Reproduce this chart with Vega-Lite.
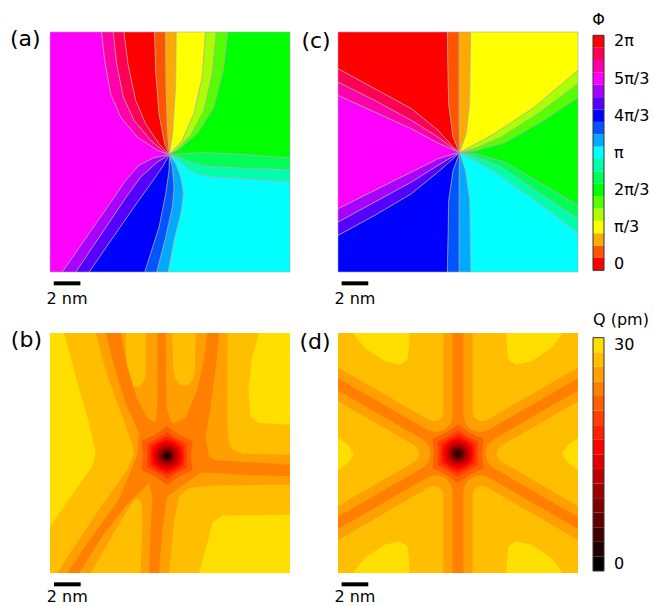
{
"$schema":"https://vega.github.io/schema/vega-lite/v6.json",
"background":"white",
"padding":{"left":9,"top":12,"right":0,"bottom":0},
"config":{"view":{"stroke":null},"font":"DejaVu Sans"},
"datasets":{
"pa":[
{"r":"a01","v":300,"x":8.95,"y":9.2},{"r":"a01","v":300,"x":8.05,"y":8.875},{"r":"a01","v":300,"x":6.55,"y":7.875},{"r":"a01","v":300,"x":5.3,"y":6.375},{"r":"a01","v":300,"x":4.55,"y":4.625},{"r":"a01","v":300,"x":4.1,"y":2.125},{"r":"a01","v":300,"x":3.875,"y":0},{"r":"a01","v":300,"x":0,"y":0},{"r":"a01","v":300,"x":0,"y":18},{"r":"a01","v":300,"x":0.925,"y":18},{"r":"a01","v":300,"x":4.925,"y":12.25},{"r":"a01","v":300,"x":5.675,"y":11.125},{"r":"a01","v":300,"x":6.675,"y":10},{"r":"a01","v":300,"x":7.8,"y":9.425},
{"r":"a02","v":320,"x":8.95,"y":9.2},{"r":"a02","v":320,"x":8.05,"y":8.875},{"r":"a02","v":320,"x":6.55,"y":7.875},{"r":"a02","v":320,"x":5.3,"y":6.375},{"r":"a02","v":320,"x":4.55,"y":4.625},{"r":"a02","v":320,"x":4.1,"y":2.125},{"r":"a02","v":320,"x":3.875,"y":0},{"r":"a02","v":320,"x":4.75,"y":0},{"r":"a02","v":320,"x":5,"y":2.375},{"r":"a02","v":320,"x":5.5,"y":4.875},{"r":"a02","v":320,"x":6.3,"y":6.625},{"r":"a02","v":320,"x":7.55,"y":8.125},{"r":"a02","v":320,"x":8.6,"y":9},
{"r":"a03","v":340,"x":8.95,"y":9.2},{"r":"a03","v":340,"x":8.6,"y":9},{"r":"a03","v":340,"x":7.55,"y":8.125},{"r":"a03","v":340,"x":6.3,"y":6.625},{"r":"a03","v":340,"x":5.5,"y":4.875},{"r":"a03","v":340,"x":5,"y":2.375},{"r":"a03","v":340,"x":4.75,"y":0},{"r":"a03","v":340,"x":5.55,"y":0},{"r":"a03","v":340,"x":5.85,"y":2.375},{"r":"a03","v":340,"x":6.425,"y":5.125},{"r":"a03","v":340,"x":7.175,"y":6.875},{"r":"a03","v":340,"x":8.175,"y":8.375},
{"r":"a04","v":0,"x":8.95,"y":9.2},{"r":"a04","v":0,"x":8.175,"y":8.375},{"r":"a04","v":0,"x":7.175,"y":6.875},{"r":"a04","v":0,"x":6.425,"y":5.125},{"r":"a04","v":0,"x":5.85,"y":2.375},{"r":"a04","v":0,"x":5.55,"y":0},{"r":"a04","v":0,"x":7.85,"y":0},{"r":"a04","v":0,"x":7.925,"y":2.875},{"r":"a04","v":0,"x":8.175,"y":6.125},{"r":"a04","v":0,"x":8.6,"y":8.375},
{"r":"a05","v":20,"x":8.95,"y":9.2},{"r":"a05","v":20,"x":8.6,"y":8.375},{"r":"a05","v":20,"x":8.175,"y":6.125},{"r":"a05","v":20,"x":7.925,"y":2.875},{"r":"a05","v":20,"x":7.85,"y":0},{"r":"a05","v":20,"x":8.675,"y":0},{"r":"a05","v":20,"x":8.7,"y":4.125},{"r":"a05","v":20,"x":8.8,"y":7.375},
{"r":"a06","v":40,"x":8.95,"y":9.2},{"r":"a06","v":40,"x":8.8,"y":7.375},{"r":"a06","v":40,"x":8.7,"y":4.125},{"r":"a06","v":40,"x":8.675,"y":0},{"r":"a06","v":40,"x":9.475,"y":0},{"r":"a06","v":40,"x":9.425,"y":4.125},{"r":"a06","v":40,"x":9.2,"y":7.625},
{"r":"a07","v":60,"x":8.95,"y":9.2},{"r":"a07","v":60,"x":9.2,"y":7.625},{"r":"a07","v":60,"x":9.425,"y":4.125},{"r":"a07","v":60,"x":9.475,"y":0},{"r":"a07","v":60,"x":11.675,"y":0},{"r":"a07","v":60,"x":11.425,"y":3.375},{"r":"a07","v":60,"x":10.8,"y":6.125},{"r":"a07","v":60,"x":9.925,"y":8.125},
{"r":"a08","v":80,"x":8.95,"y":9.2},{"r":"a08","v":80,"x":9.925,"y":8.125},{"r":"a08","v":80,"x":10.8,"y":6.125},{"r":"a08","v":80,"x":11.425,"y":3.375},{"r":"a08","v":80,"x":11.675,"y":0},{"r":"a08","v":80,"x":12.475,"y":0},{"r":"a08","v":80,"x":12.175,"y":3.125},{"r":"a08","v":80,"x":11.55,"y":5.875},{"r":"a08","v":80,"x":10.55,"y":7.75},{"r":"a08","v":80,"x":9.425,"y":8.9},
{"r":"a09","v":100,"x":8.95,"y":9.2},{"r":"a09","v":100,"x":9.425,"y":8.9},{"r":"a09","v":100,"x":10.55,"y":7.75},{"r":"a09","v":100,"x":11.55,"y":5.875},{"r":"a09","v":100,"x":12.175,"y":3.125},{"r":"a09","v":100,"x":12.475,"y":0},{"r":"a09","v":100,"x":13.35,"y":0},{"r":"a09","v":100,"x":13,"y":2.875},{"r":"a09","v":100,"x":12.3,"y":5.625},{"r":"a09","v":100,"x":11.05,"y":7.625},{"r":"a09","v":100,"x":9.675,"y":8.8},
{"r":"a10","v":120,"x":8.95,"y":9.2},{"r":"a10","v":120,"x":9.675,"y":8.8},{"r":"a10","v":120,"x":11.05,"y":7.625},{"r":"a10","v":120,"x":12.3,"y":5.625},{"r":"a10","v":120,"x":13,"y":2.875},{"r":"a10","v":120,"x":13.35,"y":0},{"r":"a10","v":120,"x":18,"y":0},{"r":"a10","v":120,"x":18,"y":9.45},{"r":"a10","v":120,"x":14.3,"y":9.175},{"r":"a10","v":120,"x":11.55,"y":9.05},{"r":"a10","v":120,"x":10.05,"y":9.125},
{"r":"a11","v":140,"x":8.95,"y":9.2},{"r":"a11","v":140,"x":10.05,"y":9.125},{"r":"a11","v":140,"x":11.55,"y":9.05},{"r":"a11","v":140,"x":14.3,"y":9.175},{"r":"a11","v":140,"x":18,"y":9.45},{"r":"a11","v":140,"x":18,"y":10.325},{"r":"a11","v":140,"x":14.3,"y":10.2},{"r":"a11","v":140,"x":11.8,"y":10.075},{"r":"a11","v":140,"x":10.675,"y":9.825},{"r":"a11","v":140,"x":9.8,"y":9.425},
{"r":"a12","v":160,"x":8.95,"y":9.2},{"r":"a12","v":160,"x":9.8,"y":9.425},{"r":"a12","v":160,"x":10.675,"y":9.825},{"r":"a12","v":160,"x":11.8,"y":10.075},{"r":"a12","v":160,"x":14.3,"y":10.2},{"r":"a12","v":160,"x":18,"y":10.325},{"r":"a12","v":160,"x":18,"y":11.225},{"r":"a12","v":160,"x":14.8,"y":11.025},{"r":"a12","v":160,"x":12.3,"y":10.875},{"r":"a12","v":160,"x":11.05,"y":10.675},{"r":"a12","v":160,"x":10.3,"y":10.25},{"r":"a12","v":160,"x":9.55,"y":9.575},
{"r":"a13","v":180,"x":8.95,"y":9.2},{"r":"a13","v":180,"x":9.55,"y":9.575},{"r":"a13","v":180,"x":10.3,"y":10.25},{"r":"a13","v":180,"x":11.05,"y":10.675},{"r":"a13","v":180,"x":12.3,"y":10.875},{"r":"a13","v":180,"x":14.8,"y":11.025},{"r":"a13","v":180,"x":18,"y":11.225},{"r":"a13","v":180,"x":18,"y":18},{"r":"a13","v":180,"x":8.85,"y":18},{"r":"a13","v":180,"x":9.3,"y":15.625},{"r":"a13","v":180,"x":9.8,"y":13.625},{"r":"a13","v":180,"x":10,"y":12.125},{"r":"a13","v":180,"x":9.8,"y":10.875},{"r":"a13","v":180,"x":9.425,"y":9.875},
{"r":"a14","v":200,"x":8.95,"y":9.2},{"r":"a14","v":200,"x":9.425,"y":9.875},{"r":"a14","v":200,"x":9.8,"y":10.875},{"r":"a14","v":200,"x":10,"y":12.125},{"r":"a14","v":200,"x":9.8,"y":13.625},{"r":"a14","v":200,"x":9.3,"y":15.625},{"r":"a14","v":200,"x":8.85,"y":18},{"r":"a14","v":200,"x":8,"y":18},{"r":"a14","v":200,"x":8.675,"y":15.375},{"r":"a14","v":200,"x":9.175,"y":13.125},{"r":"a14","v":200,"x":9.3,"y":11.625},{"r":"a14","v":200,"x":9.175,"y":10.125},
{"r":"a15","v":220,"x":8.95,"y":9.2},{"r":"a15","v":220,"x":9.175,"y":10.125},{"r":"a15","v":220,"x":9.3,"y":11.625},{"r":"a15","v":220,"x":9.175,"y":13.125},{"r":"a15","v":220,"x":8.675,"y":15.375},{"r":"a15","v":220,"x":8,"y":18},{"r":"a15","v":220,"x":7.1,"y":18},{"r":"a15","v":220,"x":8.175,"y":14.625},{"r":"a15","v":220,"x":8.675,"y":12.125},{"r":"a15","v":220,"x":8.925,"y":10.375},
{"r":"a16","v":240,"x":8.95,"y":9.2},{"r":"a16","v":240,"x":8.925,"y":10.375},{"r":"a16","v":240,"x":8.675,"y":12.125},{"r":"a16","v":240,"x":8.175,"y":14.625},{"r":"a16","v":240,"x":7.1,"y":18},{"r":"a16","v":240,"x":2.925,"y":18},{"r":"a16","v":240,"x":6.3,"y":13.125},{"r":"a16","v":240,"x":7.55,"y":11.375},{"r":"a16","v":240,"x":8.425,"y":10.125},
{"r":"a17","v":260,"x":8.95,"y":9.2},{"r":"a17","v":260,"x":8.425,"y":10.125},{"r":"a17","v":260,"x":7.55,"y":11.375},{"r":"a17","v":260,"x":6.3,"y":13.125},{"r":"a17","v":260,"x":2.925,"y":18},{"r":"a17","v":260,"x":1.925,"y":18},{"r":"a17","v":260,"x":5.8,"y":12.25},{"r":"a17","v":260,"x":6.8,"y":10.875},{"r":"a17","v":260,"x":8.05,"y":9.75},
{"r":"a18","v":280,"x":8.95,"y":9.2},{"r":"a18","v":280,"x":8.05,"y":9.75},{"r":"a18","v":280,"x":6.8,"y":10.875},{"r":"a18","v":280,"x":5.8,"y":12.25},{"r":"a18","v":280,"x":1.925,"y":18},{"r":"a18","v":280,"x":0.925,"y":18},{"r":"a18","v":280,"x":4.925,"y":12.25},{"r":"a18","v":280,"x":5.675,"y":11.125},{"r":"a18","v":280,"x":6.675,"y":10},{"r":"a18","v":280,"x":7.8,"y":9.425}
],
"pc":[
{"r":"c01","v":0,"x":9.12,"y":9.05},{"r":"c01","v":0,"x":8.625,"y":8.625},{"r":"c01","v":0,"x":7.5,"y":7.375},{"r":"c01","v":0,"x":5.5,"y":5.75},{"r":"c01","v":0,"x":2.75,"y":4.25},{"r":"c01","v":0,"x":0,"y":2.75},{"r":"c01","v":0,"x":0,"y":0},{"r":"c01","v":0,"x":8.2,"y":0},{"r":"c01","v":0,"x":8.3,"y":5.375},{"r":"c01","v":0,"x":8.625,"y":7.875},
{"r":"c02","v":20,"x":9.12,"y":9.05},{"r":"c02","v":20,"x":8.625,"y":7.875},{"r":"c02","v":20,"x":8.3,"y":5.375},{"r":"c02","v":20,"x":8.2,"y":0},{"r":"c02","v":20,"x":9.075,"y":0},{"r":"c02","v":20,"x":9.075,"y":6.625},
{"r":"c03","v":40,"x":9.12,"y":9.05},{"r":"c03","v":40,"x":9.075,"y":6.625},{"r":"c03","v":40,"x":9.075,"y":0},{"r":"c03","v":40,"x":9.95,"y":0},{"r":"c03","v":40,"x":9.875,"y":5.375},{"r":"c03","v":40,"x":9.625,"y":7.625},
{"r":"c04","v":60,"x":9.12,"y":9.05},{"r":"c04","v":60,"x":9.625,"y":7.625},{"r":"c04","v":60,"x":9.875,"y":5.375},{"r":"c04","v":60,"x":9.95,"y":0},{"r":"c04","v":60,"x":18,"y":0},{"r":"c04","v":60,"x":18,"y":2.875},{"r":"c04","v":60,"x":14.75,"y":5.625},{"r":"c04","v":60,"x":11.75,"y":7.625},{"r":"c04","v":60,"x":10,"y":8.575},
{"r":"c05","v":80,"x":9.12,"y":9.05},{"r":"c05","v":80,"x":10,"y":8.575},{"r":"c05","v":80,"x":11.75,"y":7.625},{"r":"c05","v":80,"x":14.75,"y":5.625},{"r":"c05","v":80,"x":18,"y":2.875},{"r":"c05","v":80,"x":18,"y":3.875},{"r":"c05","v":80,"x":15,"y":6.125},{"r":"c05","v":80,"x":12.25,"y":7.875},{"r":"c05","v":80,"x":10.25,"y":8.75},
{"r":"c06","v":100,"x":9.12,"y":9.05},{"r":"c06","v":100,"x":10.25,"y":8.75},{"r":"c06","v":100,"x":12.25,"y":7.875},{"r":"c06","v":100,"x":15,"y":6.125},{"r":"c06","v":100,"x":18,"y":3.875},{"r":"c06","v":100,"x":18,"y":4.925},{"r":"c06","v":100,"x":15.25,"y":6.75},{"r":"c06","v":100,"x":12.5,"y":8.325},{"r":"c06","v":100,"x":10.25,"y":8.925},
{"r":"c07","v":120,"x":9.12,"y":9.05},{"r":"c07","v":120,"x":10.25,"y":8.925},{"r":"c07","v":120,"x":12.5,"y":8.325},{"r":"c07","v":120,"x":15.25,"y":6.75},{"r":"c07","v":120,"x":18,"y":4.925},{"r":"c07","v":120,"x":18,"y":13},{"r":"c07","v":120,"x":15.25,"y":11.375},{"r":"c07","v":120,"x":12.5,"y":9.75},{"r":"c07","v":120,"x":10.25,"y":9.125},
{"r":"c08","v":140,"x":9.12,"y":9.05},{"r":"c08","v":140,"x":10.25,"y":9.125},{"r":"c08","v":140,"x":12.5,"y":9.75},{"r":"c08","v":140,"x":15.25,"y":11.375},{"r":"c08","v":140,"x":18,"y":13},{"r":"c08","v":140,"x":18,"y":14},{"r":"c08","v":140,"x":15,"y":12},{"r":"c08","v":140,"x":12.25,"y":10.125},{"r":"c08","v":140,"x":10.25,"y":9.325},
{"r":"c09","v":160,"x":9.12,"y":9.05},{"r":"c09","v":160,"x":10.25,"y":9.325},{"r":"c09","v":160,"x":12.25,"y":10.125},{"r":"c09","v":160,"x":15,"y":12},{"r":"c09","v":160,"x":18,"y":14},{"r":"c09","v":160,"x":18,"y":15.075},{"r":"c09","v":160,"x":14.75,"y":12.625},{"r":"c09","v":160,"x":11.75,"y":10.5},{"r":"c09","v":160,"x":10,"y":9.5},
{"r":"c10","v":180,"x":9.12,"y":9.05},{"r":"c10","v":180,"x":10,"y":9.5},{"r":"c10","v":180,"x":11.75,"y":10.5},{"r":"c10","v":180,"x":14.75,"y":12.625},{"r":"c10","v":180,"x":18,"y":15.075},{"r":"c10","v":180,"x":18,"y":18},{"r":"c10","v":180,"x":9.95,"y":18},{"r":"c10","v":180,"x":9.875,"y":12.625},{"r":"c10","v":180,"x":9.55,"y":10.375},
{"r":"c11","v":200,"x":9.12,"y":9.05},{"r":"c11","v":200,"x":9.55,"y":10.375},{"r":"c11","v":200,"x":9.875,"y":12.625},{"r":"c11","v":200,"x":9.95,"y":18},{"r":"c11","v":200,"x":9.075,"y":18},{"r":"c11","v":200,"x":9.075,"y":11.125},
{"r":"c12","v":220,"x":9.12,"y":9.05},{"r":"c12","v":220,"x":9.075,"y":11.125},{"r":"c12","v":220,"x":9.075,"y":18},{"r":"c12","v":220,"x":8.2,"y":18},{"r":"c12","v":220,"x":8.3,"y":12.625},{"r":"c12","v":220,"x":8.625,"y":10.375},
{"r":"c13","v":240,"x":9.12,"y":9.05},{"r":"c13","v":240,"x":8.625,"y":10.375},{"r":"c13","v":240,"x":8.3,"y":12.625},{"r":"c13","v":240,"x":8.2,"y":18},{"r":"c13","v":240,"x":0,"y":18},{"r":"c13","v":240,"x":0,"y":15.25},{"r":"c13","v":240,"x":2.75,"y":13.75},{"r":"c13","v":240,"x":5.5,"y":12.125},{"r":"c13","v":240,"x":7.5,"y":10.5},{"r":"c13","v":240,"x":8.625,"y":9.5},
{"r":"c14","v":260,"x":9.12,"y":9.05},{"r":"c14","v":260,"x":8.625,"y":9.5},{"r":"c14","v":260,"x":7.5,"y":10.5},{"r":"c14","v":260,"x":5.5,"y":12.125},{"r":"c14","v":260,"x":2.75,"y":13.75},{"r":"c14","v":260,"x":0,"y":15.25},{"r":"c14","v":260,"x":0,"y":14.25},{"r":"c14","v":260,"x":2.75,"y":12.75},{"r":"c14","v":260,"x":5.5,"y":11.25},{"r":"c14","v":260,"x":7.5,"y":10},{"r":"c14","v":260,"x":8.75,"y":9.25},
{"r":"c15","v":280,"x":9.12,"y":9.05},{"r":"c15","v":280,"x":8.75,"y":9.25},{"r":"c15","v":280,"x":7.5,"y":10},{"r":"c15","v":280,"x":5.5,"y":11.25},{"r":"c15","v":280,"x":2.75,"y":12.75},{"r":"c15","v":280,"x":0,"y":14.25},{"r":"c15","v":280,"x":0,"y":13.25},{"r":"c15","v":280,"x":2.75,"y":11.875},{"r":"c15","v":280,"x":5.5,"y":10.5},{"r":"c15","v":280,"x":7.5,"y":9.5},{"r":"c15","v":280,"x":8.875,"y":9.075},
{"r":"c16","v":300,"x":9.12,"y":9.05},{"r":"c16","v":300,"x":8.875,"y":9.075},{"r":"c16","v":300,"x":7.5,"y":9.5},{"r":"c16","v":300,"x":5.5,"y":10.5},{"r":"c16","v":300,"x":2.75,"y":11.875},{"r":"c16","v":300,"x":0,"y":13.25},{"r":"c16","v":300,"x":0,"y":4.75},{"r":"c16","v":300,"x":2.75,"y":6},{"r":"c16","v":300,"x":5.5,"y":7.25},{"r":"c16","v":300,"x":7.5,"y":8.325},{"r":"c16","v":300,"x":8.875,"y":8.925},
{"r":"c17","v":320,"x":9.12,"y":9.05},{"r":"c17","v":320,"x":8.875,"y":8.925},{"r":"c17","v":320,"x":7.5,"y":8.325},{"r":"c17","v":320,"x":5.5,"y":7.25},{"r":"c17","v":320,"x":2.75,"y":6},{"r":"c17","v":320,"x":0,"y":4.75},{"r":"c17","v":320,"x":0,"y":3.75},{"r":"c17","v":320,"x":2.75,"y":5.125},{"r":"c17","v":320,"x":5.5,"y":6.625},{"r":"c17","v":320,"x":7.5,"y":7.875},{"r":"c17","v":320,"x":8.75,"y":8.825},
{"r":"c18","v":340,"x":9.12,"y":9.05},{"r":"c18","v":340,"x":8.75,"y":8.825},{"r":"c18","v":340,"x":7.5,"y":7.875},{"r":"c18","v":340,"x":5.5,"y":6.625},{"r":"c18","v":340,"x":2.75,"y":5.125},{"r":"c18","v":340,"x":0,"y":3.75},{"r":"c18","v":340,"x":0,"y":2.75},{"r":"c18","v":340,"x":2.75,"y":4.25},{"r":"c18","v":340,"x":5.5,"y":5.75},{"r":"c18","v":340,"x":7.5,"y":7.375},{"r":"c18","v":340,"x":8.625,"y":8.625}
],
"pd":[
{"r":"d01","v":28,"x":0,"y":0},{"r":"d01","v":28,"x":18,"y":0},{"r":"d01","v":28,"x":18,"y":18},{"r":"d01","v":28,"x":0,"y":18},
{"r":"d02","v":30,"x":1.125,"y":0},{"r":"d02","v":30,"x":2,"y":1.125},{"r":"d02","v":30,"x":3.5,"y":2.125},{"r":"d02","v":30,"x":4.625,"y":2.375},{"r":"d02","v":30,"x":5.2,"y":2},{"r":"d02","v":30,"x":5.325,"y":1},{"r":"d02","v":30,"x":5.375,"y":0},
{"r":"d03","v":30,"x":12.625,"y":0},{"r":"d03","v":30,"x":12.675,"y":1},{"r":"d03","v":30,"x":12.8,"y":2},{"r":"d03","v":30,"x":13.375,"y":2.375},{"r":"d03","v":30,"x":14.5,"y":2.125},{"r":"d03","v":30,"x":16,"y":1.125},{"r":"d03","v":30,"x":16.875,"y":0},
{"r":"d04","v":30,"x":1.125,"y":18},{"r":"d04","v":30,"x":2,"y":16.875},{"r":"d04","v":30,"x":3.5,"y":15.875},{"r":"d04","v":30,"x":4.625,"y":15.625},{"r":"d04","v":30,"x":5.2,"y":16},{"r":"d04","v":30,"x":5.325,"y":17},{"r":"d04","v":30,"x":5.375,"y":18},
{"r":"d05","v":30,"x":12.625,"y":18},{"r":"d05","v":30,"x":12.675,"y":17},{"r":"d05","v":30,"x":12.8,"y":16},{"r":"d05","v":30,"x":13.375,"y":15.625},{"r":"d05","v":30,"x":14.5,"y":15.875},{"r":"d05","v":30,"x":16,"y":16.875},{"r":"d05","v":30,"x":16.875,"y":18},
{"r":"d06","v":30,"x":0,"y":7.875},{"r":"d06","v":30,"x":0.75,"y":8.375},{"r":"d06","v":30,"x":1.2,"y":9.05},{"r":"d06","v":30,"x":0.75,"y":9.75},{"r":"d06","v":30,"x":0,"y":10.25},
{"r":"d07","v":30,"x":18,"y":7.875},{"r":"d07","v":30,"x":17.25,"y":8.375},{"r":"d07","v":30,"x":16.8,"y":9.05},{"r":"d07","v":30,"x":17.25,"y":9.75},{"r":"d07","v":30,"x":18,"y":10.25},
{"r":"d08","v":26,"x":10.1,"y":0},{"r":"d08","v":26,"x":10.1,"y":5.93},{"r":"d08","v":26,"x":10.19,"y":6.28},{"r":"d08","v":26,"x":10.45,"y":6.54},{"r":"d08","v":26,"x":10.8,"y":6.63},{"r":"d08","v":26,"x":11.15,"y":6.54},{"r":"d08","v":26,"x":18,"y":2.58},{"r":"d08","v":26,"x":18,"y":5.12},{"r":"d08","v":26,"x":12.25,"y":8.444},{"r":"d08","v":26,"x":11.994,"y":8.7},{"r":"d08","v":26,"x":11.9,"y":9.05},{"r":"d08","v":26,"x":11.994,"y":9.4},{"r":"d08","v":26,"x":12.25,"y":9.656},{"r":"d08","v":26,"x":18,"y":12.98},{"r":"d08","v":26,"x":18,"y":15.52},{"r":"d08","v":26,"x":11.15,"y":11.56},{"r":"d08","v":26,"x":10.8,"y":11.47},{"r":"d08","v":26,"x":10.45,"y":11.56},{"r":"d08","v":26,"x":10.19,"y":11.82},{"r":"d08","v":26,"x":10.1,"y":12.17},{"r":"d08","v":26,"x":10.1,"y":18},{"r":"d08","v":26,"x":7.9,"y":18},{"r":"d08","v":26,"x":7.9,"y":12.17},{"r":"d08","v":26,"x":7.81,"y":11.82},{"r":"d08","v":26,"x":7.55,"y":11.56},{"r":"d08","v":26,"x":7.2,"y":11.47},{"r":"d08","v":26,"x":6.85,"y":11.56},{"r":"d08","v":26,"x":0,"y":15.52},{"r":"d08","v":26,"x":0,"y":12.98},{"r":"d08","v":26,"x":5.75,"y":9.656},{"r":"d08","v":26,"x":6.006,"y":9.4},{"r":"d08","v":26,"x":6.1,"y":9.05},{"r":"d08","v":26,"x":6.006,"y":8.7},{"r":"d08","v":26,"x":5.75,"y":8.444},{"r":"d08","v":26,"x":0,"y":5.12},{"r":"d08","v":26,"x":0,"y":2.58},{"r":"d08","v":26,"x":6.85,"y":6.54},{"r":"d08","v":26,"x":7.2,"y":6.63},{"r":"d08","v":26,"x":7.55,"y":6.54},{"r":"d08","v":26,"x":7.81,"y":6.28},{"r":"d08","v":26,"x":7.9,"y":5.93},{"r":"d08","v":26,"x":7.9,"y":0},
{"r":"d09","v":24,"x":9.4,"y":0},{"r":"d09","v":24,"x":9.4,"y":6.192},{"r":"d09","v":24,"x":9.5675,"y":6.817},{"r":"d09","v":24,"x":10.025,"y":7.275},{"r":"d09","v":24,"x":10.65,"y":7.442},{"r":"d09","v":24,"x":11.2755,"y":7.275},{"r":"d09","v":24,"x":18,"y":3.392},{"r":"d09","v":24,"x":18,"y":4.315},{"r":"d09","v":24,"x":11.675,"y":7.967},{"r":"d09","v":24,"x":11.2175,"y":8.425},{"r":"d09","v":24,"x":11.05,"y":9.05},{"r":"d09","v":24,"x":11.2175,"y":9.675},{"r":"d09","v":24,"x":11.675,"y":10.133},{"r":"d09","v":24,"x":18,"y":13.785},{"r":"d09","v":24,"x":18,"y":14.708},{"r":"d09","v":24,"x":11.2755,"y":10.825},{"r":"d09","v":24,"x":10.65,"y":10.658},{"r":"d09","v":24,"x":10.025,"y":10.825},{"r":"d09","v":24,"x":9.5675,"y":11.283},{"r":"d09","v":24,"x":9.4,"y":11.908},{"r":"d09","v":24,"x":9.4,"y":18},{"r":"d09","v":24,"x":8.6,"y":18},{"r":"d09","v":24,"x":8.6,"y":11.908},{"r":"d09","v":24,"x":8.4325,"y":11.283},{"r":"d09","v":24,"x":7.975,"y":10.825},{"r":"d09","v":24,"x":7.35,"y":10.658},{"r":"d09","v":24,"x":6.7245,"y":10.825},{"r":"d09","v":24,"x":0,"y":14.708},{"r":"d09","v":24,"x":0,"y":13.785},{"r":"d09","v":24,"x":6.325,"y":10.133},{"r":"d09","v":24,"x":6.7825,"y":9.675},{"r":"d09","v":24,"x":6.95,"y":9.05},{"r":"d09","v":24,"x":6.7825,"y":8.425},{"r":"d09","v":24,"x":6.325,"y":7.967},{"r":"d09","v":24,"x":0,"y":4.315},{"r":"d09","v":24,"x":0,"y":3.392},{"r":"d09","v":24,"x":6.7245,"y":7.275},{"r":"d09","v":24,"x":7.35,"y":7.442},{"r":"d09","v":24,"x":7.975,"y":7.275},{"r":"d09","v":24,"x":8.4325,"y":6.817},{"r":"d09","v":24,"x":8.6,"y":6.192},{"r":"d09","v":24,"x":8.6,"y":0},
{"r":"d10","v":22,"x":9,"y":6.85},{"r":"d10","v":22,"x":9.902,"y":7.488},{"r":"d10","v":22,"x":10.905,"y":7.95},{"r":"d10","v":22,"x":10.804,"y":9.05},{"r":"d10","v":22,"x":10.905,"y":10.15},{"r":"d10","v":22,"x":9.902,"y":10.612},{"r":"d10","v":22,"x":9,"y":11.25},{"r":"d10","v":22,"x":8.098,"y":10.612},{"r":"d10","v":22,"x":7.095,"y":10.15},{"r":"d10","v":22,"x":7.196,"y":9.05},{"r":"d10","v":22,"x":7.095,"y":7.95},{"r":"d10","v":22,"x":8.098,"y":7.488},
{"r":"d11","v":20,"x":9,"y":7.3},{"r":"d11","v":20,"x":9.744,"y":7.762},{"r":"d11","v":20,"x":10.516,"y":8.175},{"r":"d11","v":20,"x":10.4875,"y":9.05},{"r":"d11","v":20,"x":10.516,"y":9.925},{"r":"d11","v":20,"x":9.744,"y":10.338},{"r":"d11","v":20,"x":9,"y":10.8},{"r":"d11","v":20,"x":8.256,"y":10.338},{"r":"d11","v":20,"x":7.484,"y":9.925},{"r":"d11","v":20,"x":7.5125,"y":9.05},{"r":"d11","v":20,"x":7.484,"y":8.175},{"r":"d11","v":20,"x":8.256,"y":7.762},
{"r":"d12","v":18,"x":9,"y":7.6},{"r":"d12","v":18,"x":9.6525,"y":7.92},{"r":"d12","v":18,"x":10.256,"y":8.325},{"r":"d12","v":18,"x":10.305,"y":9.05},{"r":"d12","v":18,"x":10.256,"y":9.775},{"r":"d12","v":18,"x":9.6525,"y":10.18},{"r":"d12","v":18,"x":9,"y":10.5},{"r":"d12","v":18,"x":8.3475,"y":10.18},{"r":"d12","v":18,"x":7.744,"y":9.775},{"r":"d12","v":18,"x":7.695,"y":9.05},{"r":"d12","v":18,"x":7.744,"y":8.325},{"r":"d12","v":18,"x":8.3475,"y":7.92},
{"r":"d13","v":16,"x":9,"y":7.85},{"r":"d13","v":16,"x":9.57,"y":8.063},{"r":"d13","v":16,"x":10.039,"y":8.45},{"r":"d13","v":16,"x":10.14,"y":9.05},{"r":"d13","v":16,"x":10.039,"y":9.65},{"r":"d13","v":16,"x":9.57,"y":10.037},{"r":"d13","v":16,"x":9,"y":10.25},{"r":"d13","v":16,"x":8.43,"y":10.037},{"r":"d13","v":16,"x":7.961,"y":9.65},{"r":"d13","v":16,"x":7.86,"y":9.05},{"r":"d13","v":16,"x":7.961,"y":8.45},{"r":"d13","v":16,"x":8.43,"y":8.063},
{"r":"d14","v":14,"x":9,"y":8.05},{"r":"d14","v":14,"x":9.5,"y":8.184},{"r":"d14","v":14,"x":9.866,"y":8.55},{"r":"d14","v":14,"x":10,"y":9.05},{"r":"d14","v":14,"x":9.866,"y":9.55},{"r":"d14","v":14,"x":9.5,"y":9.916},{"r":"d14","v":14,"x":9,"y":10.05},{"r":"d14","v":14,"x":8.5,"y":9.916},{"r":"d14","v":14,"x":8.134,"y":9.55},{"r":"d14","v":14,"x":8,"y":9.05},{"r":"d14","v":14,"x":8.134,"y":8.55},{"r":"d14","v":14,"x":8.5,"y":8.184},
{"r":"d15","v":12,"x":9,"y":8.23},{"r":"d15","v":12,"x":9.41,"y":8.34},{"r":"d15","v":12,"x":9.71,"y":8.64},{"r":"d15","v":12,"x":9.82,"y":9.05},{"r":"d15","v":12,"x":9.71,"y":9.46},{"r":"d15","v":12,"x":9.41,"y":9.76},{"r":"d15","v":12,"x":9,"y":9.87},{"r":"d15","v":12,"x":8.59,"y":9.76},{"r":"d15","v":12,"x":8.29,"y":9.46},{"r":"d15","v":12,"x":8.18,"y":9.05},{"r":"d15","v":12,"x":8.29,"y":8.64},{"r":"d15","v":12,"x":8.59,"y":8.34},
{"r":"d16","v":10,"x":9,"y":8.39},{"r":"d16","v":10,"x":9.33,"y":8.478},{"r":"d16","v":10,"x":9.572,"y":8.72},{"r":"d16","v":10,"x":9.66,"y":9.05},{"r":"d16","v":10,"x":9.572,"y":9.38},{"r":"d16","v":10,"x":9.33,"y":9.622},{"r":"d16","v":10,"x":9,"y":9.71},{"r":"d16","v":10,"x":8.67,"y":9.622},{"r":"d16","v":10,"x":8.428,"y":9.38},{"r":"d16","v":10,"x":8.34,"y":9.05},{"r":"d16","v":10,"x":8.428,"y":8.72},{"r":"d16","v":10,"x":8.67,"y":8.478},
{"r":"d17","v":8,"x":9,"y":8.53},{"r":"d17","v":8,"x":9.368,"y":8.682},{"r":"d17","v":8,"x":9.52,"y":9.05},{"r":"d17","v":8,"x":9.368,"y":9.418},{"r":"d17","v":8,"x":9,"y":9.57},{"r":"d17","v":8,"x":8.632,"y":9.418},{"r":"d17","v":8,"x":8.48,"y":9.05},{"r":"d17","v":8,"x":8.632,"y":8.682},
{"r":"d18","v":6,"x":9,"y":8.65},{"r":"d18","v":6,"x":9.283,"y":8.767},{"r":"d18","v":6,"x":9.4,"y":9.05},{"r":"d18","v":6,"x":9.283,"y":9.333},{"r":"d18","v":6,"x":9,"y":9.45},{"r":"d18","v":6,"x":8.717,"y":9.333},{"r":"d18","v":6,"x":8.6,"y":9.05},{"r":"d18","v":6,"x":8.717,"y":8.767},
{"r":"d19","v":4,"x":9,"y":8.77},{"r":"d19","v":4,"x":9.198,"y":8.852},{"r":"d19","v":4,"x":9.28,"y":9.05},{"r":"d19","v":4,"x":9.198,"y":9.248},{"r":"d19","v":4,"x":9,"y":9.33},{"r":"d19","v":4,"x":8.802,"y":9.248},{"r":"d19","v":4,"x":8.72,"y":9.05},{"r":"d19","v":4,"x":8.802,"y":8.852},
{"r":"d20","v":2,"x":9,"y":8.88},{"r":"d20","v":2,"x":9.12,"y":8.93},{"r":"d20","v":2,"x":9.17,"y":9.05},{"r":"d20","v":2,"x":9.12,"y":9.17},{"r":"d20","v":2,"x":9,"y":9.22},{"r":"d20","v":2,"x":8.88,"y":9.17},{"r":"d20","v":2,"x":8.83,"y":9.05},{"r":"d20","v":2,"x":8.88,"y":8.93},
{"r":"d21","v":0,"x":9,"y":8.98},{"r":"d21","v":0,"x":9.07,"y":9.05},{"r":"d21","v":0,"x":9,"y":9.12},{"r":"d21","v":0,"x":8.93,"y":9.05}
],
"pb":[
{"r":"b01","v":26,"x":0,"y":0},{"r":"b01","v":26,"x":18,"y":0},{"r":"b01","v":26,"x":18,"y":18},{"r":"b01","v":26,"x":0,"y":18},
{"r":"b02","v":28,"x":0,"y":0},{"r":"b02","v":28,"x":3.425,"y":0},{"r":"b02","v":28,"x":4.3,"y":3.25},{"r":"b02","v":28,"x":5.425,"y":6.25},{"r":"b02","v":28,"x":6.125,"y":8.25},{"r":"b02","v":28,"x":6.3,"y":9.125},{"r":"b02","v":28,"x":5.8,"y":10.25},{"r":"b02","v":28,"x":3.675,"y":13.25},{"r":"b02","v":28,"x":1.675,"y":16.25},{"r":"b02","v":28,"x":0.55,"y":18},{"r":"b02","v":28,"x":0,"y":18},
{"r":"b03","v":28,"x":5.675,"y":0},{"r":"b03","v":28,"x":7.175,"y":0},{"r":"b03","v":28,"x":7.175,"y":3},{"r":"b03","v":28,"x":7.05,"y":3.6},{"r":"b03","v":28,"x":6.8,"y":3.95},{"r":"b03","v":28,"x":6.425,"y":4.05},{"r":"b03","v":28,"x":6.05,"y":3.9},{"r":"b03","v":28,"x":5.85,"y":3.5},{"r":"b03","v":28,"x":5.725,"y":2.75},
{"r":"b04","v":28,"x":9.175,"y":0},{"r":"b04","v":28,"x":10.925,"y":0},{"r":"b04","v":28,"x":10.875,"y":2.75},{"r":"b04","v":28,"x":10.75,"y":3.4},{"r":"b04","v":28,"x":10.45,"y":3.85},{"r":"b04","v":28,"x":10.05,"y":3.95},{"r":"b04","v":28,"x":9.65,"y":3.8},{"r":"b04","v":28,"x":9.35,"y":3.3},{"r":"b04","v":28,"x":9.225,"y":2.5},
{"r":"b05","v":28,"x":13.3,"y":0},{"r":"b05","v":28,"x":18,"y":0},{"r":"b05","v":28,"x":18,"y":9.125},{"r":"b05","v":28,"x":14.425,"y":9.05},{"r":"b05","v":28,"x":13.675,"y":8.75},{"r":"b05","v":28,"x":13.375,"y":8},{"r":"b05","v":28,"x":13.3,"y":6.75},
{"r":"b06","v":28,"x":18,"y":11.375},{"r":"b06","v":28,"x":18,"y":18},{"r":"b06","v":28,"x":8.925,"y":18},{"r":"b06","v":28,"x":9.3,"y":14.25},{"r":"b06","v":28,"x":9.675,"y":12.25},{"r":"b06","v":28,"x":10.425,"y":11.625},{"r":"b06","v":28,"x":11.925,"y":11.45},
{"r":"b07","v":28,"x":3.05,"y":18},{"r":"b07","v":28,"x":6.8,"y":18},{"r":"b07","v":28,"x":6.925,"y":14.25},{"r":"b07","v":28,"x":6.875,"y":12.875},{"r":"b07","v":28,"x":6.75,"y":12.55},{"r":"b07","v":28,"x":6.55,"y":12.45},{"r":"b07","v":28,"x":6.3,"y":12.55},{"r":"b07","v":28,"x":6.05,"y":12.875},{"r":"b07","v":28,"x":4.925,"y":14.75},
{"r":"b08","v":30,"x":0,"y":0},{"r":"b08","v":30,"x":1.05,"y":0},{"r":"b08","v":30,"x":1.925,"y":3.25},{"r":"b08","v":30,"x":2.925,"y":6.75},{"r":"b08","v":30,"x":3.425,"y":9},{"r":"b08","v":30,"x":3.175,"y":10},{"r":"b08","v":30,"x":1.925,"y":11.75},{"r":"b08","v":30,"x":0,"y":14.5},
{"r":"b09","v":30,"x":15.675,"y":0},{"r":"b09","v":30,"x":18,"y":0},{"r":"b09","v":30,"x":18,"y":6.875},{"r":"b09","v":30,"x":15.675,"y":6.75},{"r":"b09","v":30,"x":15.05,"y":6.25},{"r":"b09","v":30,"x":14.875,"y":4.25},{"r":"b09","v":30,"x":15.175,"y":1.75},
{"r":"b10","v":30,"x":18,"y":13.625},{"r":"b10","v":30,"x":18,"y":18},{"r":"b10","v":30,"x":11.175,"y":18},{"r":"b10","v":30,"x":11.8,"y":15.75},{"r":"b10","v":30,"x":12.175,"y":14.25},{"r":"b10","v":30,"x":12.925,"y":13.7},
{"r":"b11","v":24,"x":4.175,"y":0},{"r":"b11","v":24,"x":5.3,"y":0},{"r":"b11","v":24,"x":5.8,"y":2.5},{"r":"b11","v":24,"x":6.55,"y":5},{"r":"b11","v":24,"x":7.3,"y":6.375},{"r":"b11","v":24,"x":7.925,"y":6.75},{"r":"b11","v":24,"x":8.05,"y":5.5},{"r":"b11","v":24,"x":8.05,"y":0},{"r":"b11","v":24,"x":8.675,"y":0},{"r":"b11","v":24,"x":8.725,"y":5.5},{"r":"b11","v":24,"x":9.05,"y":6.625},{"r":"b11","v":24,"x":9.3,"y":6.75},{"r":"b11","v":24,"x":10.175,"y":6.375},{"r":"b11","v":24,"x":11.05,"y":4.25},{"r":"b11","v":24,"x":11.55,"y":2},{"r":"b11","v":24,"x":11.8,"y":0},{"r":"b11","v":24,"x":12.675,"y":0},{"r":"b11","v":24,"x":12.475,"y":2.25},{"r":"b11","v":24,"x":12.05,"y":5.5},{"r":"b11","v":24,"x":11.675,"y":7.75},{"r":"b11","v":24,"x":11.925,"y":9.25},{"r":"b11","v":24,"x":12.425,"y":9.55},{"r":"b11","v":24,"x":18,"y":9.875},{"r":"b11","v":24,"x":18,"y":10.75},{"r":"b11","v":24,"x":14.425,"y":10.625},{"r":"b11","v":24,"x":11.425,"y":10.45},{"r":"b11","v":24,"x":10.175,"y":11.25},{"r":"b11","v":24,"x":8.8,"y":12.25},{"r":"b11","v":24,"x":8.425,"y":14.75},{"r":"b11","v":24,"x":8.175,"y":18},{"r":"b11","v":24,"x":7.425,"y":18},{"r":"b11","v":24,"x":7.55,"y":14.75},{"r":"b11","v":24,"x":7.675,"y":12.25},{"r":"b11","v":24,"x":7.425,"y":11.25},{"r":"b11","v":24,"x":5.675,"y":13},{"r":"b11","v":24,"x":3.925,"y":15.25},{"r":"b11","v":24,"x":2.175,"y":18},{"r":"b11","v":24,"x":1.3,"y":18},{"r":"b11","v":24,"x":3.175,"y":15.25},{"r":"b11","v":24,"x":5.175,"y":12.5},{"r":"b11","v":24,"x":6.55,"y":9.125},{"r":"b11","v":24,"x":6.675,"y":7.5},{"r":"b11","v":24,"x":5.675,"y":5.25},{"r":"b11","v":24,"x":4.8,"y":2.5},
{"r":"b12","v":22,"x":8.775,"y":7},{"r":"b12","v":22,"x":9.677,"y":7.638},{"r":"b12","v":22,"x":10.68,"y":8.1},{"r":"b12","v":22,"x":10.579,"y":9.2},{"r":"b12","v":22,"x":10.68,"y":10.3},{"r":"b12","v":22,"x":9.677,"y":10.762},{"r":"b12","v":22,"x":8.775,"y":11.4},{"r":"b12","v":22,"x":7.873,"y":10.762},{"r":"b12","v":22,"x":6.87,"y":10.3},{"r":"b12","v":22,"x":6.971,"y":9.2},{"r":"b12","v":22,"x":6.87,"y":8.1},{"r":"b12","v":22,"x":7.873,"y":7.638},
{"r":"b13","v":20,"x":8.775,"y":7.45},{"r":"b13","v":20,"x":9.519,"y":7.912},{"r":"b13","v":20,"x":10.291,"y":8.325},{"r":"b13","v":20,"x":10.263,"y":9.2},{"r":"b13","v":20,"x":10.291,"y":10.075},{"r":"b13","v":20,"x":9.519,"y":10.488},{"r":"b13","v":20,"x":8.775,"y":10.95},{"r":"b13","v":20,"x":8.031,"y":10.488},{"r":"b13","v":20,"x":7.259,"y":10.075},{"r":"b13","v":20,"x":7.288,"y":9.2},{"r":"b13","v":20,"x":7.259,"y":8.325},{"r":"b13","v":20,"x":8.031,"y":7.912},
{"r":"b14","v":18,"x":8.775,"y":7.75},{"r":"b14","v":18,"x":9.428,"y":8.07},{"r":"b14","v":18,"x":10.031,"y":8.475},{"r":"b14","v":18,"x":10.08,"y":9.2},{"r":"b14","v":18,"x":10.031,"y":9.925},{"r":"b14","v":18,"x":9.428,"y":10.33},{"r":"b14","v":18,"x":8.775,"y":10.65},{"r":"b14","v":18,"x":8.123,"y":10.33},{"r":"b14","v":18,"x":7.519,"y":9.925},{"r":"b14","v":18,"x":7.47,"y":9.2},{"r":"b14","v":18,"x":7.519,"y":8.475},{"r":"b14","v":18,"x":8.123,"y":8.07},
{"r":"b15","v":16,"x":8.775,"y":8},{"r":"b15","v":16,"x":9.345,"y":8.213},{"r":"b15","v":16,"x":9.814,"y":8.6},{"r":"b15","v":16,"x":9.915,"y":9.2},{"r":"b15","v":16,"x":9.814,"y":9.8},{"r":"b15","v":16,"x":9.345,"y":10.187},{"r":"b15","v":16,"x":8.775,"y":10.4},{"r":"b15","v":16,"x":8.205,"y":10.187},{"r":"b15","v":16,"x":7.736,"y":9.8},{"r":"b15","v":16,"x":7.635,"y":9.2},{"r":"b15","v":16,"x":7.736,"y":8.6},{"r":"b15","v":16,"x":8.205,"y":8.213},
{"r":"b16","v":14,"x":8.775,"y":8.2},{"r":"b16","v":14,"x":9.275,"y":8.334},{"r":"b16","v":14,"x":9.641,"y":8.7},{"r":"b16","v":14,"x":9.775,"y":9.2},{"r":"b16","v":14,"x":9.641,"y":9.7},{"r":"b16","v":14,"x":9.275,"y":10.066},{"r":"b16","v":14,"x":8.775,"y":10.2},{"r":"b16","v":14,"x":8.275,"y":10.066},{"r":"b16","v":14,"x":7.909,"y":9.7},{"r":"b16","v":14,"x":7.775,"y":9.2},{"r":"b16","v":14,"x":7.909,"y":8.7},{"r":"b16","v":14,"x":8.275,"y":8.334},
{"r":"b17","v":12,"x":8.775,"y":8.38},{"r":"b17","v":12,"x":9.185,"y":8.49},{"r":"b17","v":12,"x":9.485,"y":8.79},{"r":"b17","v":12,"x":9.595,"y":9.2},{"r":"b17","v":12,"x":9.485,"y":9.61},{"r":"b17","v":12,"x":9.185,"y":9.91},{"r":"b17","v":12,"x":8.775,"y":10.02},{"r":"b17","v":12,"x":8.365,"y":9.91},{"r":"b17","v":12,"x":8.065,"y":9.61},{"r":"b17","v":12,"x":7.955,"y":9.2},{"r":"b17","v":12,"x":8.065,"y":8.79},{"r":"b17","v":12,"x":8.365,"y":8.49},
{"r":"b18","v":10,"x":8.775,"y":8.54},{"r":"b18","v":10,"x":9.105,"y":8.628},{"r":"b18","v":10,"x":9.347,"y":8.87},{"r":"b18","v":10,"x":9.435,"y":9.2},{"r":"b18","v":10,"x":9.347,"y":9.53},{"r":"b18","v":10,"x":9.105,"y":9.772},{"r":"b18","v":10,"x":8.775,"y":9.86},{"r":"b18","v":10,"x":8.445,"y":9.772},{"r":"b18","v":10,"x":8.203,"y":9.53},{"r":"b18","v":10,"x":8.115,"y":9.2},{"r":"b18","v":10,"x":8.203,"y":8.87},{"r":"b18","v":10,"x":8.445,"y":8.628},
{"r":"b19","v":8,"x":8.775,"y":8.68},{"r":"b19","v":8,"x":9.143,"y":8.832},{"r":"b19","v":8,"x":9.295,"y":9.2},{"r":"b19","v":8,"x":9.143,"y":9.568},{"r":"b19","v":8,"x":8.775,"y":9.72},{"r":"b19","v":8,"x":8.407,"y":9.568},{"r":"b19","v":8,"x":8.255,"y":9.2},{"r":"b19","v":8,"x":8.407,"y":8.832},
{"r":"b20","v":6,"x":8.775,"y":8.8},{"r":"b20","v":6,"x":9.058,"y":8.917},{"r":"b20","v":6,"x":9.175,"y":9.2},{"r":"b20","v":6,"x":9.058,"y":9.483},{"r":"b20","v":6,"x":8.775,"y":9.6},{"r":"b20","v":6,"x":8.492,"y":9.483},{"r":"b20","v":6,"x":8.375,"y":9.2},{"r":"b20","v":6,"x":8.492,"y":8.917},
{"r":"b21","v":4,"x":8.775,"y":8.92},{"r":"b21","v":4,"x":8.973,"y":9.002},{"r":"b21","v":4,"x":9.055,"y":9.2},{"r":"b21","v":4,"x":8.973,"y":9.398},{"r":"b21","v":4,"x":8.775,"y":9.48},{"r":"b21","v":4,"x":8.577,"y":9.398},{"r":"b21","v":4,"x":8.495,"y":9.2},{"r":"b21","v":4,"x":8.577,"y":9.002},
{"r":"b22","v":2,"x":8.775,"y":9.03},{"r":"b22","v":2,"x":8.895,"y":9.08},{"r":"b22","v":2,"x":8.945,"y":9.2},{"r":"b22","v":2,"x":8.895,"y":9.32},{"r":"b22","v":2,"x":8.775,"y":9.37},{"r":"b22","v":2,"x":8.655,"y":9.32},{"r":"b22","v":2,"x":8.605,"y":9.2},{"r":"b22","v":2,"x":8.655,"y":9.08},
{"r":"b23","v":0,"x":8.775,"y":9.13},{"r":"b23","v":0,"x":8.845,"y":9.2},{"r":"b23","v":0,"x":8.775,"y":9.27},{"r":"b23","v":0,"x":8.705,"y":9.2}
]
},
"columns":3,
"spacing":{"row":61,"column":15},
"bounds":"flush",
"resolve":{"scale":{"color":"independent","x":"independent","y":"independent"}},
"concat":[
  {"width":273,"height":240,"layer":[
   {"data":{"name":"pa"},"mark":{"type":"line","filled":true,"interpolate":"linear-closed","stroke":"#a8a8a8","strokeWidth":0.6,"strokeJoin":"round"},
    "encoding":{"x":{"field":"x","type":"quantitative","scale":{"domain":[0,20.475],"nice":false,"zero":false},"axis":null},
     "y":{"field":"y","type":"quantitative","scale":{"domain":[0,18],"nice":false,"zero":false,"reverse":true},"axis":null},
     "detail":{"field":"r"},"order":{"value":null},
     "color":{"field":"v","type":"ordinal","scale":{"domain":[0,20,40,60,80,100,120,140,160,180,200,220,240,260,280,300,320,340,360],"range":["#ff0000","#ff5500","#ffaa00","#ffff00","#aaff00","#55ff00","#00ff00","#00ff55","#00ffaa","#00ffff","#00aaff","#0055ff","#0000ff","#5500ff","#aa00ff","#ff00ff","#ff00aa","#ff0055","#ff0000"]},"legend":null}}},
   {"data":{"values":[{"x":0.28,"x2":2.28,"y":18.85}]},"mark":{"type":"rule","strokeWidth":4,"color":"#000000"},
    "encoding":{"x":{"field":"x","type":"quantitative","scale":{"domain":[0,20.475],"nice":false,"zero":false},"axis":null},"x2":{"field":"x2"},"y":{"field":"y","type":"quantitative","scale":{"domain":[0,18],"nice":false,"zero":false,"reverse":true},"axis":null}}},
   {"data":{"values":[{"x":1.28,"y":20.37,"t":"2 nm"}]},"mark":{"type":"text","fontSize":16,"font":"DejaVu Sans","align":"center","baseline":"alphabetic","color":"#000000"},
    "encoding":{"x":{"field":"x","type":"quantitative","scale":{"domain":[0,20.475],"nice":false,"zero":false},"axis":null},"y":{"field":"y","type":"quantitative","scale":{"domain":[0,18],"nice":false,"zero":false,"reverse":true},"axis":null},"text":{"field":"t"}}},
   {"data":{"values":[{"x":-0.71,"y":1.07,"t":"(a)"}]},"mark":{"type":"text","fontSize":22,"font":"DejaVu Sans","align":"right","baseline":"alphabetic","color":"#000000"},
    "encoding":{"x":{"field":"x","type":"quantitative","scale":{"domain":[0,20.475],"nice":false,"zero":false},"axis":null},"y":{"field":"y","type":"quantitative","scale":{"domain":[0,18],"nice":false,"zero":false,"reverse":true},"axis":null},"text":{"field":"t"}}}
  ]},
  {"width":240,"height":240,"layer":[
   {"data":{"name":"pc"},"mark":{"type":"line","filled":true,"interpolate":"linear-closed","stroke":"#a8a8a8","strokeWidth":0.6,"strokeJoin":"round"},
    "encoding":{"x":{"field":"x","type":"quantitative","scale":{"domain":[0,18],"nice":false,"zero":false},"axis":null},
     "y":{"field":"y","type":"quantitative","scale":{"domain":[0,18],"nice":false,"zero":false,"reverse":true},"axis":null},
     "detail":{"field":"r"},"order":{"value":null},
     "color":{"field":"v","type":"ordinal","scale":{"domain":[0,20,40,60,80,100,120,140,160,180,200,220,240,260,280,300,320,340,360],"range":["#ff0000","#ff5500","#ffaa00","#ffff00","#aaff00","#55ff00","#00ff00","#00ff55","#00ffaa","#00ffff","#00aaff","#0055ff","#0000ff","#5500ff","#aa00ff","#ff00ff","#ff00aa","#ff0055","#ff0000"]},"legend":null}}},
   {"data":{"values":[{"x":0.27,"x2":2.27,"y":18.85}]},"mark":{"type":"rule","strokeWidth":4,"color":"#000000"},
    "encoding":{"x":{"field":"x","type":"quantitative","scale":{"domain":[0,18],"nice":false,"zero":false},"axis":null},"x2":{"field":"x2"},"y":{"field":"y","type":"quantitative","scale":{"domain":[0,18],"nice":false,"zero":false,"reverse":true},"axis":null}}},
   {"data":{"values":[{"x":1.27,"y":20.37,"t":"2 nm"}]},"mark":{"type":"text","fontSize":16,"font":"DejaVu Sans","align":"center","baseline":"alphabetic","color":"#000000"},
    "encoding":{"x":{"field":"x","type":"quantitative","scale":{"domain":[0,18],"nice":false,"zero":false},"axis":null},"y":{"field":"y","type":"quantitative","scale":{"domain":[0,18],"nice":false,"zero":false,"reverse":true},"axis":null},"text":{"field":"t"}}},
   {"data":{"values":[{"x":-0.55,"y":1.2,"t":"(c)"}]},"mark":{"type":"text","fontSize":22,"font":"DejaVu Sans","align":"right","baseline":"alphabetic","color":"#000000"},
    "encoding":{"x":{"field":"x","type":"quantitative","scale":{"domain":[0,18],"nice":false,"zero":false},"axis":null},"y":{"field":"y","type":"quantitative","scale":{"domain":[0,18],"nice":false,"zero":false,"reverse":true},"axis":null},"text":{"field":"t"}}}
  ]},
 {"width":11,"height":240,"layer":[
  {"data":{"values":[{"v":0,"lo":-10,"hi":10},{"v":20,"lo":10,"hi":30},{"v":40,"lo":30,"hi":50},{"v":60,"lo":50,"hi":70},{"v":80,"lo":70,"hi":90},{"v":100,"lo":90,"hi":110},{"v":120,"lo":110,"hi":130},{"v":140,"lo":130,"hi":150},{"v":160,"lo":150,"hi":170},{"v":180,"lo":170,"hi":190},{"v":200,"lo":190,"hi":210},{"v":220,"lo":210,"hi":230},{"v":240,"lo":230,"hi":250},{"v":260,"lo":250,"hi":270},{"v":280,"lo":270,"hi":290},{"v":300,"lo":290,"hi":310},{"v":320,"lo":310,"hi":330},{"v":340,"lo":330,"hi":350},{"v":360,"lo":350,"hi":370}]},
   "mark":{"type":"rect"},
   "encoding":{"x":{"datum":0,"type":"quantitative","scale":{"domain":[0,1],"nice":false,"zero":false},"axis":null},"x2":{"datum":1},
    "y":{"field":"lo","type":"quantitative","scale":{"domain":[-12.7,375.3],"nice":false,"zero":false},"axis":null},
    "y2":{"field":"hi"},
    "color":{"field":"v","type":"ordinal","scale":{"domain":[0,20,40,60,80,100,120,140,160,180,200,220,240,260,280,300,320,340,360],"range":["#ff0000","#ff5500","#ffaa00","#ffff00","#aaff00","#55ff00","#00ff00","#00ff55","#00ffaa","#00ffff","#00aaff","#0055ff","#0000ff","#5500ff","#aa00ff","#ff00ff","#ff00aa","#ff0055","#ff0000"]},"legend":null}}},
  {"data":{"values":[{"lo":-10,"hi":370}]},"mark":{"type":"rect","filled":false,"stroke":"#333333","strokeWidth":1},
   "encoding":{"x":{"datum":0,"type":"quantitative","axis":null},"x2":{"datum":1},"y":{"field":"lo","type":"quantitative","axis":null},"y2":{"field":"hi"}}},
  {"data":{"values":[{"p":0,"t":"0"},{"p":60,"t":"π/3"},{"p":120,"t":"2π/3"},{"p":180,"t":"π"},{"p":240,"t":"4π/3"},{"p":300,"t":"5π/3"},{"p":360,"t":"2π"}]},
   "mark":{"type":"text","fontSize":16,"font":"DejaVu Sans","align":"left","baseline":"middle","dx":10,"color":"#000000"},
   "encoding":{"x":{"datum":1,"type":"quantitative","axis":null},"y":{"field":"p","type":"quantitative","axis":null},"text":{"field":"t"}}},
  {"data":{"values":[{"t":"Φ"}]},"mark":{"type":"text","fontSize":16,"font":"DejaVu Sans","align":"center","baseline":"alphabetic","color":"#000000"},
   "encoding":{"x":{"datum":0.5,"type":"quantitative","axis":null},"y":{"datum":386,"type":"quantitative","axis":null},"text":{"field":"t"}}}
 ]},
  {"width":273,"height":240,"layer":[
   {"data":{"name":"pb"},"mark":{"type":"line","filled":true,"interpolate":"linear-closed","strokeWidth":0},
    "encoding":{"x":{"field":"x","type":"quantitative","scale":{"domain":[0,20.475],"nice":false,"zero":false},"axis":null},
     "y":{"field":"y","type":"quantitative","scale":{"domain":[0,18],"nice":false,"zero":false,"reverse":true},"axis":null},
     "detail":{"field":"r"},"order":{"value":null},
     "color":{"field":"v","type":"ordinal","scale":{"domain":[0,2,4,6,8,10,12,14,16,18,20,22,24,26,28,30],"range":["#000000","#200000","#400000","#600000","#800000","#9f0000","#bf0000","#df0000","#ff0000","#ff2000","#ff4000","#ff5f00","#ff7f00","#ff9f00","#ffbf00","#ffdf00"]},"legend":null}}},
   {"data":{"values":[{"x":0.3,"x2":2.3,"y":18.85}]},"mark":{"type":"rule","strokeWidth":4,"color":"#000000"},
    "encoding":{"x":{"field":"x","type":"quantitative","scale":{"domain":[0,20.475],"nice":false,"zero":false},"axis":null},"x2":{"field":"x2"},"y":{"field":"y","type":"quantitative","scale":{"domain":[0,18],"nice":false,"zero":false,"reverse":true},"axis":null}}},
   {"data":{"values":[{"x":1.3,"y":20.2,"t":"2 nm"}]},"mark":{"type":"text","fontSize":16,"font":"DejaVu Sans","align":"center","baseline":"alphabetic","color":"#000000"},
    "encoding":{"x":{"field":"x","type":"quantitative","scale":{"domain":[0,20.475],"nice":false,"zero":false},"axis":null},"y":{"field":"y","type":"quantitative","scale":{"domain":[0,18],"nice":false,"zero":false,"reverse":true},"axis":null},"text":{"field":"t"}}},
   {"data":{"values":[{"x":-0.6,"y":1.07,"t":"(b)"}]},"mark":{"type":"text","fontSize":22,"font":"DejaVu Sans","align":"right","baseline":"alphabetic","color":"#000000"},
    "encoding":{"x":{"field":"x","type":"quantitative","scale":{"domain":[0,20.475],"nice":false,"zero":false},"axis":null},"y":{"field":"y","type":"quantitative","scale":{"domain":[0,18],"nice":false,"zero":false,"reverse":true},"axis":null},"text":{"field":"t"}}}
  ]},
  {"width":240,"height":240,"layer":[
   {"data":{"name":"pd"},"mark":{"type":"line","filled":true,"interpolate":"linear-closed","strokeWidth":0},
    "encoding":{"x":{"field":"x","type":"quantitative","scale":{"domain":[0,18],"nice":false,"zero":false},"axis":null},
     "y":{"field":"y","type":"quantitative","scale":{"domain":[0,18],"nice":false,"zero":false,"reverse":true},"axis":null},
     "detail":{"field":"r"},"order":{"value":null},
     "color":{"field":"v","type":"ordinal","scale":{"domain":[0,2,4,6,8,10,12,14,16,18,20,22,24,26,28,30],"range":["#000000","#200000","#400000","#600000","#800000","#9f0000","#bf0000","#df0000","#ff0000","#ff2000","#ff4000","#ff5f00","#ff7f00","#ff9f00","#ffbf00","#ffdf00"]},"legend":null}}},
   {"data":{"values":[{"x":0.27,"x2":2.27,"y":18.85}]},"mark":{"type":"rule","strokeWidth":4,"color":"#000000"},
    "encoding":{"x":{"field":"x","type":"quantitative","scale":{"domain":[0,18],"nice":false,"zero":false},"axis":null},"x2":{"field":"x2"},"y":{"field":"y","type":"quantitative","scale":{"domain":[0,18],"nice":false,"zero":false,"reverse":true},"axis":null}}},
   {"data":{"values":[{"x":1.27,"y":20.2,"t":"2 nm"}]},"mark":{"type":"text","fontSize":16,"font":"DejaVu Sans","align":"center","baseline":"alphabetic","color":"#000000"},
    "encoding":{"x":{"field":"x","type":"quantitative","scale":{"domain":[0,18],"nice":false,"zero":false},"axis":null},"y":{"field":"y","type":"quantitative","scale":{"domain":[0,18],"nice":false,"zero":false,"reverse":true},"axis":null},"text":{"field":"t"}}},
   {"data":{"values":[{"x":-0.55,"y":1.2,"t":"(d)"}]},"mark":{"type":"text","fontSize":22,"font":"DejaVu Sans","align":"right","baseline":"alphabetic","color":"#000000"},
    "encoding":{"x":{"field":"x","type":"quantitative","scale":{"domain":[0,18],"nice":false,"zero":false},"axis":null},"y":{"field":"y","type":"quantitative","scale":{"domain":[0,18],"nice":false,"zero":false,"reverse":true},"axis":null},"text":{"field":"t"}}}
  ]},
 {"width":11,"height":240,"layer":[
  {"data":{"values":[{"v":0,"lo":-1,"hi":1},{"v":2,"lo":1,"hi":3},{"v":4,"lo":3,"hi":5},{"v":6,"lo":5,"hi":7},{"v":8,"lo":7,"hi":9},{"v":10,"lo":9,"hi":11},{"v":12,"lo":11,"hi":13},{"v":14,"lo":13,"hi":15},{"v":16,"lo":15,"hi":17},{"v":18,"lo":17,"hi":19},{"v":20,"lo":19,"hi":21},{"v":22,"lo":21,"hi":23},{"v":24,"lo":23,"hi":25},{"v":26,"lo":25,"hi":27},{"v":28,"lo":27,"hi":29},{"v":30,"lo":29,"hi":31}]},
   "mark":{"type":"rect"},
   "encoding":{"x":{"datum":0,"type":"quantitative","scale":{"domain":[0,1],"nice":false,"zero":false},"axis":null},"x2":{"datum":1},
    "y":{"field":"lo","type":"quantitative","scale":{"domain":[-1.27,31.64],"nice":false,"zero":false},"axis":null},
    "y2":{"field":"hi"},
    "color":{"field":"v","type":"ordinal","scale":{"domain":[0,2,4,6,8,10,12,14,16,18,20,22,24,26,28,30],"range":["#000000","#200000","#400000","#600000","#800000","#9f0000","#bf0000","#df0000","#ff0000","#ff2000","#ff4000","#ff5f00","#ff7f00","#ff9f00","#ffbf00","#ffdf00"]},"legend":null}}},
  {"data":{"values":[{"lo":-1,"hi":31}]},"mark":{"type":"rect","filled":false,"stroke":"#333333","strokeWidth":1},
   "encoding":{"x":{"datum":0,"type":"quantitative","axis":null},"x2":{"datum":1},"y":{"field":"lo","type":"quantitative","axis":null},"y2":{"field":"hi"}}},
  {"data":{"values":[{"p":0,"t":"0"},{"p":30,"t":"30"}]},
   "mark":{"type":"text","fontSize":16,"font":"DejaVu Sans","align":"left","baseline":"middle","dx":10,"color":"#000000"},
   "encoding":{"x":{"datum":1,"type":"quantitative","axis":null},"y":{"field":"p","type":"quantitative","axis":null},"text":{"field":"t"}}},
  {"data":{"values":[{"t":"Q (pm)"}]},"mark":{"type":"text","fontSize":16,"font":"DejaVu Sans","align":"left","baseline":"alphabetic","color":"#000000"},
   "encoding":{"x":{"datum":0,"type":"quantitative","axis":null},"y":{"datum":32.74,"type":"quantitative","axis":null},"text":{"field":"t"}}}
 ]}
]
}
